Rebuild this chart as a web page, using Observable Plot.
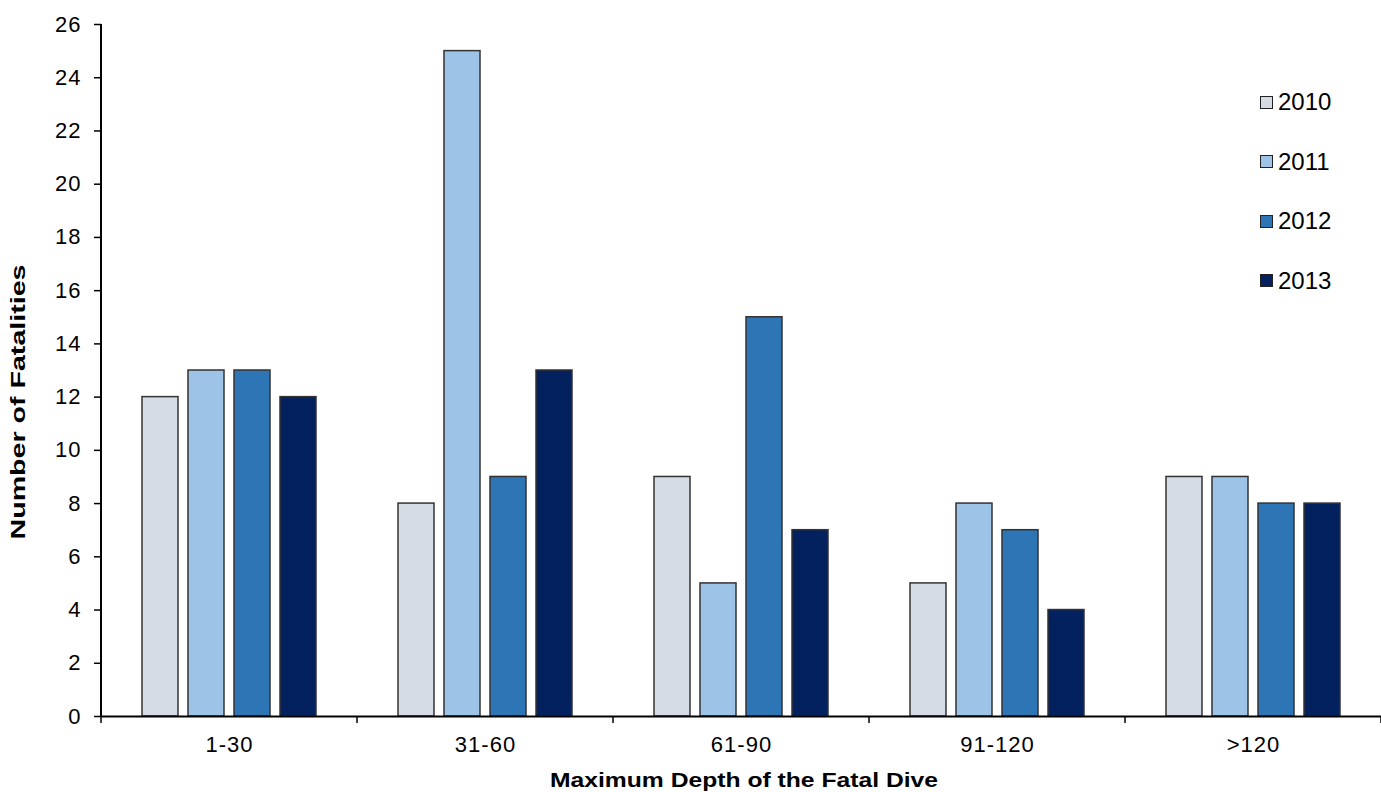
<!DOCTYPE html>
<html>
<head>
<meta charset="utf-8">
<script src="https://cdn.jsdelivr.net/npm/d3@7"></script>
<script src="https://cdn.jsdelivr.net/npm/@observablehq/plot@0.6"></script>
<style>
  body { margin: 0; background: #fff; font-family: "Liberation Sans", Arial, sans-serif; }
  #wrap { position: relative; width: 1381px; height: 792px; overflow: hidden; }
  #wrap svg g[aria-label$="tick label"] { font-size: 22px !important; letter-spacing: 1px; fill: #000; }
  .legend { position: absolute; left: 1260px; height: 24px; font-size: 24px; line-height: 24px; color: #000; display: flex; align-items: center; }
  .legend .sw { width: 11px; height: 11px; border: 1px solid #222; margin-right: 5px; }
</style>
</head>
<body>
<div id="wrap"></div>
<script>
const categories = ["1-30", "31-60", "61-90", "91-120", ">120"];
const years = ["2010", "2011", "2012", "2013"];
const v2010 = [12, 8, 9, 5, 9];
const v2011 = [13, 25, 5, 8, 9];
const v2012 = [13, 9, 15, 7, 8];
const v2013 = [12, 13, 7, 4, 8];
const colors = ["#D6DCE5", "#9DC3E6", "#2E75B6", "#03215E"];
const yTicks = d3.range(0, 27, 2);

const series = [v2010, v2011, v2012, v2013];
const data = [];
categories.forEach((c, i) => years.forEach((y, j) => data.push({cat: c, year: y, value: series[j][i]})));

const W = 1381, H = 792;
const plot = Plot.plot({
  width: W, height: H,
  marginLeft: 100, marginRight: 0, marginTop: 24, marginBottom: 76,
  style: {fontFamily: "Liberation Sans, Arial, sans-serif", fontSize: "22px", color: "#000", background: "#fff"},
  fx: {domain: categories, padding: 0, label: null},
  x: {domain: years, paddingInner: 0.213, paddingOuter: 0.84, axis: null},
  y: {domain: [0, 26], label: null},
  color: {domain: years, range: colors},
  marks: [
    Plot.barY(data, {fx: "cat", x: "year", y: "value", fill: "year", stroke: "#333", strokeWidth: 1.5}),
    Plot.ruleY([0], {stroke: "#000", strokeWidth: 2}),
    Plot.axisY({ticks: yTicks, tickSize: 7, tickPadding: 13, fontSize: 22, stroke: "#000", strokeWidth: 1.5}),
    Plot.axisFx({anchor: "bottom", tickSize: 0, tickPadding: 20, fontSize: 22, label: null})
  ]
});
document.getElementById("wrap").appendChild(plot);

// axis line and category boundary ticks from the scales
const fx = plot.scale("fx"), ys = plot.scale("y");
const svg = d3.select(plot);
const y0 = ys.apply(0), yTop = ys.apply(26);
const step = fx.bandwidth !== undefined ? fx.bandwidth : (fx.range[1] - fx.range[0]) / categories.length;
const x0 = fx.apply(categories[0]);
svg.append("line").attr("x1", x0).attr("x2", x0).attr("y1", y0).attr("y2", yTop)
  .attr("stroke", "#000").attr("stroke-width", 2);
const bounds = categories.map(c => fx.apply(c)).concat([fx.apply(categories[categories.length - 1]) + step]);
bounds.forEach(b => svg.append("line").attr("x1", b).attr("x2", b).attr("y1", y0).attr("y2", y0 + 7)
  .attr("stroke", "#000").attr("stroke-width", 1.5));

// axis titles
svg.append("text").attr("transform", `translate(25,${(y0 + yTop) / 2 + 32}) rotate(-90)`)
  .attr("text-anchor", "middle").attr("font-weight", "bold").attr("font-size", 21).attr("fill", "#000")
  .attr("textLength", 275).attr("lengthAdjust", "spacingAndGlyphs")
  .text("Number of Fatalities");
svg.append("text").attr("x", 744).attr("y", 787)
  .attr("text-anchor", "middle").attr("font-weight", "bold").attr("font-size", 21).attr("fill", "#000")
  .attr("textLength", 388).attr("lengthAdjust", "spacingAndGlyphs")
  .text("Maximum Depth of the Fatal Dive");

// legend
const legendY = [102, 161.5, 221, 280.5];
years.forEach((y, i) => {
  const d = document.createElement("div");
  d.className = "legend";
  d.style.top = (legendY[i] - 12) + "px";
  d.innerHTML = `<span class="sw" style="background:${colors[i]}"></span><span>${y}</span>`;
  document.getElementById("wrap").appendChild(d);
});
</script>
</body>
</html>
